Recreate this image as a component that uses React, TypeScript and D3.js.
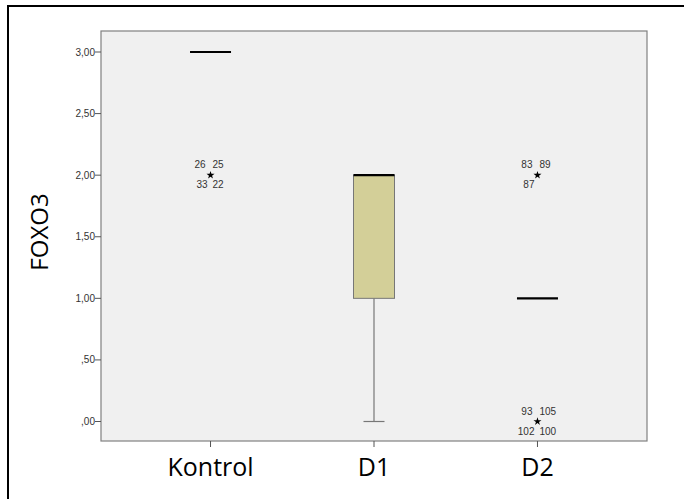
import React from 'react';
import * as d3 from 'd3';

const categories = ['Kontrol', 'D1', 'D2'];

// box stats per group: q1, median, q3, whisker low / high
const boxStats = [
  { group: 'Kontrol', q1: 3, median: 3, q3: 3, low: 3, high: 3 },
  { group: 'D1', q1: 1, median: 2, q3: 2, low: 0, high: 2 },
  { group: 'D2', q1: 1, median: 1, q3: 1, low: 1, high: 1 },
];

// extreme values (stars) with case labels
const extremes = [
  { group: 'Kontrol', value: 2, labels: ['26', '25', '33', '22'] },
  { group: 'D2', value: 2, labels: ['83', '89', '87'] },
  { group: 'D2', value: 0, labels: ['93', '105', '102', '100'] },
];

const yTicks = [0, 0.5, 1, 1.5, 2, 2.5, 3];

const W = 684;
const H = 499;
const plot = { left: 101, top: 31, right: 647, bottom: 441 };

const fmt = (v: number) => {
  const s = v.toFixed(2).replace('.', ',');
  return s.startsWith('0') ? s.slice(1) : s;
};

const App: React.FC = () => {
  const x = d3.scalePoint<string>()
    .domain(categories)
    .range([plot.left, plot.right])
    .padding(0.67);

  const y = d3.scaleLinear()
    .domain([0, 3])
    .range([421.5, 52]);

  const boxW = 41;
  const capW = 21;
  const star = d3.symbol().type(d3.symbolStar).size(20)() || '';

  // label placement around a star: upper-left, upper-right, lower-left, lower-right
  const labelPos = [
    { dx: -5, dy: -7, anchor: 'end' },
    { dx: 2, dy: -7, anchor: 'start' },
    { dx: -3, dy: 13, anchor: 'end' },
    { dx: 2, dy: 13, anchor: 'start' },
  ];

  return (
    <div style={{ position: 'absolute', left: 0, top: 0 }}>
      <svg width={W} height={H} style={{ display: 'block', background: '#fff' }}
        fontFamily="'Liberation Sans', Arial, sans-serif">
        <rect x={8} y={6} width={690} height={510} fill="#fff" stroke="#000" strokeWidth={2} />

        {/* plot area */}
        <rect x={plot.left} y={plot.top} width={plot.right - plot.left} height={plot.bottom - plot.top}
          fill="#f0f0f0" stroke="#808080" strokeWidth={1.2} />

        {/* y axis ticks */}
        {yTicks.map(t => (
          <g key={t} transform={`translate(${plot.left},${y(t)})`}>
            <line x1={-6} x2={0} stroke="#555" />
            <text x={-6} dy="0.35em" textAnchor="end" fontSize={10} fill="#333">{fmt(t)}</text>
          </g>
        ))}

        {/* x axis ticks */}
        {categories.map(c => (
          <g key={c} transform={`translate(${x(c)},${plot.bottom})`}>
            <line y1={0} y2={6} stroke="#555" />
            <text y={35} textAnchor="middle" fontSize={25} fontFamily="'Open Sans', sans-serif" fill="#000">{c}</text>
          </g>
        ))}

        <text transform={`translate(48,232) rotate(-90)`}
          textAnchor="middle" fontSize={24} fontFamily="'Open Sans', sans-serif" fill="#000">FOXO3</text>

        {/* boxes */}
        {boxStats.map(b => {
          const cx = x(b.group) || 0;
          const hasBox = b.q3 > b.q1;
          return (
            <g key={b.group}>
              {b.low < b.q1 && (
                <>
                  <line x1={cx} x2={cx} y1={y(b.q1)} y2={y(b.low)} stroke="#777" strokeWidth={1.2} />
                  <line x1={cx - capW / 2} x2={cx + capW / 2} y1={y(b.low)} y2={y(b.low)} stroke="#777" strokeWidth={1.2} />
                </>
              )}
              {hasBox && (
                <rect x={cx - boxW / 2} y={y(b.q3)} width={boxW} height={y(b.q1) - y(b.q3)}
                  fill="#d3cf98" stroke="#777" strokeWidth={1} />
              )}
              <line x1={cx - boxW / 2} x2={cx + boxW / 2} y1={y(b.median)} y2={y(b.median)}
                stroke="#000" strokeWidth={2.2} />
            </g>
          );
        })}

        {/* extremes */}
        {extremes.map((e, i) => {
          const cx = x(e.group) || 0;
          const cy = y(e.value);
          return (
            <g key={i} transform={`translate(${cx},${cy})`}>
              <path d={star} fill="#000" />
              {e.labels.map((l, j) => (
                <text key={l} x={labelPos[j].dx} y={labelPos[j].dy} textAnchor={labelPos[j].anchor}
                  fontSize={10} fill="#333">{l}</text>
              ))}
            </g>
          );
        })}
      </svg>
    </div>
  );
};

export default App;
